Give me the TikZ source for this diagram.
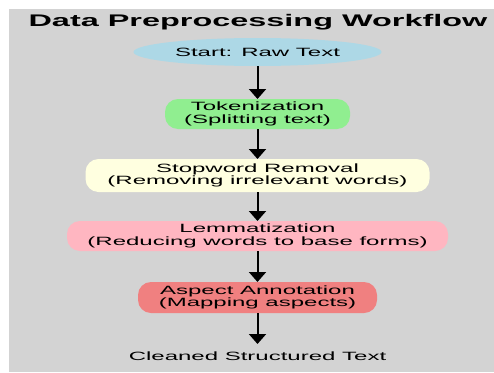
\documentclass[tikz,border=0pt]{standalone}
\usepackage{fontspec}
\setmainfont{Liberation Sans}
\usetikzlibrary{arrows.meta,shapes.geometric}
\definecolor{bggray}{HTML}{D3D3D3}
\definecolor{cblue}{HTML}{ADD8E6}
\definecolor{cgreen}{HTML}{90EE90}
\definecolor{cyellow}{HTML}{FFFFE0}
\definecolor{cpink}{HTML}{FFB6C1}
\definecolor{ccoral}{HTML}{F08080}
\tikzset{
  bodytext/.style={font=\fontsize{12}{12.3}\selectfont, text=black, align=center, inner sep=0pt, outer sep=0pt},
  stepbox/.style={bodytext, rectangle, rounded corners=13pt, minimum height=#1},
  startshape/.style={bodytext, ellipse, fill=cblue, minimum width=124pt, minimum height=28pt},
  arr/.style={line width=2pt, -{Triangle[width=17pt,length=10pt]}},
}
\begin{document}
\begin{tikzpicture}[x=1pt,y=-1pt]
\useasboundingbox (0,0) rectangle (494,372);
\fill[bggray] (9,9) rectangle (494,372);
\node[anchor=base, inner sep=0pt, font=\fontsize{16.8}{18}\selectfont\bfseries] (title) at (258,26)
  {\scalebox{1.93}[1]{Data Preprocessing Workflow}};
\begin{scope}[shift={(257.5,0)}, xscale=2.0, transform shape]
  \node[startshape] (start) at (0,52) {Start: Raw Text};
  \node[stepbox=30pt, fill=cgreen, minimum width=92.5pt] (tok) at (0,114) {Tokenization\\(Splitting text)};
  \node[stepbox=33pt, fill=cyellow, minimum width=172pt] (stop) at (0,175.5) {Stopword Removal\\(Removing irrelevant words)};
  \node[stepbox=30pt, fill=cpink, minimum width=190.5pt] (lemma) at (0,236) {Lemmatization\\(Reducing words to base forms)};
  \node[stepbox=31pt, fill=ccoral, minimum width=119.5pt] (aspect) at (0,297.5) {Aspect Annotation\\(Mapping aspects)};
  \node[bodytext, anchor=base, inner ysep=8pt] (clean) at (0,360.7) {Cleaned Structured Text};
\end{scope}
\draw[arr] (start) -- (tok);
\draw[arr] (tok) -- (stop);
\draw[arr] (stop) -- (lemma);
\draw[arr] (lemma) -- (aspect);
\draw[arr] (aspect) -- (clean);
\end{tikzpicture}
\end{document}
